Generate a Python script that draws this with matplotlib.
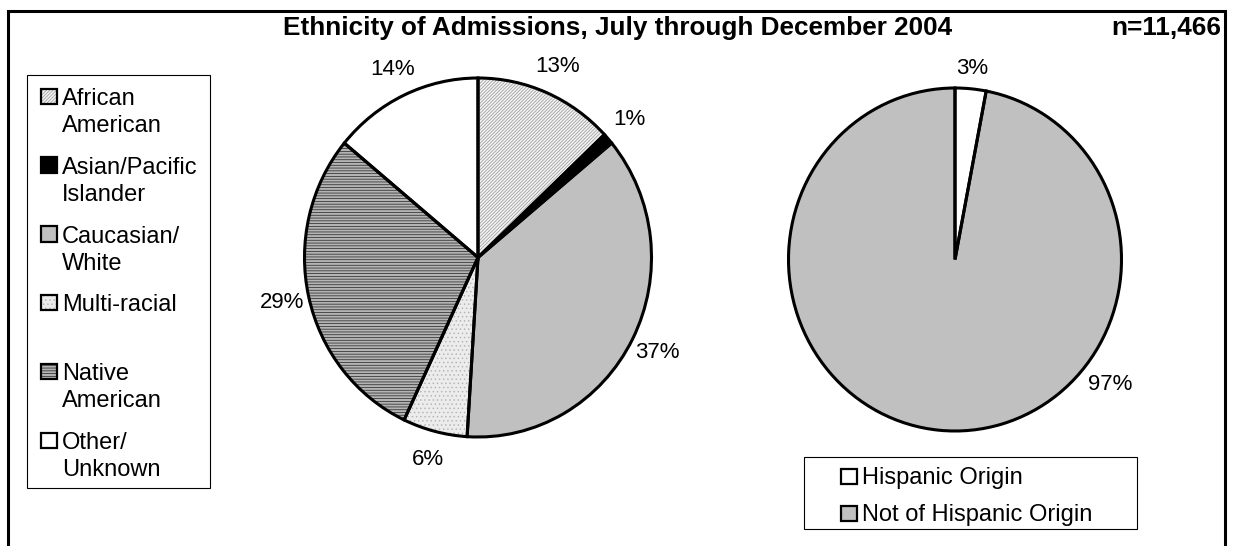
import matplotlib.pyplot as plt
from matplotlib.patches import Rectangle

plt.rcParams['font.family'] = ['Liberation Sans', 'DejaVu Sans']
plt.rcParams['hatch.linewidth'] = 0.55

# admissions by race (percent, clockwise from 12 o'clock)
race_labels = ["African\nAmerican", "Asian/Pacific\nIslander", "Caucasian/\nWhite",
               "Multi-racial", "Native\nAmerican", "Other/\nUnknown"]
race_pct = [13, 1, 37, 6, 29, 14]

# admissions by hispanic origin
origin_labels = ["Hispanic Origin", "Not of Hispanic Origin"]
origin_pct = [3, 97]

n_total = "11,466"

# (face colour, hatch, hatch colour) per slice
race_styles = [
    ("#f4f4f4", "/" * 10, "#9a9a9a"),
    ("black", None, "black"),
    ("#c0c0c0", None, "#c0c0c0"),
    ("#ececec", "....", "#b4b4b4"),
    ("#b4b4b4", "-" * 6, "#2e2e2e"),
    ("white", None, "white"),
]
origin_styles = [("white", None, "white"), ("#c0c0c0", None, "#c0c0c0")]

W, H = 1233, 546
fig = plt.figure(figsize=(W / 100, H / 100), dpi=100)

# overlay in pixel units for frame, title and legends
ov = fig.add_axes([0, 0, 1, 1])
ov.set_xlim(0, W)
ov.set_ylim(H, 0)
ov.axis('off')


def px_axes(cx, cy, rx, ry):
    return fig.add_axes([(cx - rx) / W, (H - cy - ry) / H, 2 * rx / W, 2 * ry / H])


def draw_pie(ax, values, styles, label_dist):
    wedges, texts = ax.pie(values, startangle=90, counterclock=False,
                           labels=[f"{v}%" for v in values], labeldistance=label_dist,
                           textprops=dict(fontsize=16))
    for w, (face, hatch, hc) in zip(wedges, styles):
        w.set_facecolor(face)
        w.set_edgecolor(hc)
        w.set_linewidth(0)
        if hatch:
            w.set_hatch(hatch)
    # black outlines on top so hatch colour stays separate
    ax.pie(values, startangle=90, counterclock=False,
           wedgeprops=dict(fill=False, edgecolor='black', linewidth=2.2))
    for t in texts:
        t.set_ha('center')
        t.set_va('center')
    ax.set_aspect('auto')
    ax.set_xlim(-1, 1)
    ax.set_ylim(-1, 1)
    return texts


ax1 = px_axes(478, 257.5, 173.5, 179.5)
draw_pie(ax1, race_pct, race_styles, 1.16)

ax2 = px_axes(955, 259.5, 166.5, 171.5)
t2 = draw_pie(ax2, origin_pct, origin_styles, 1.12)
t2[1].set_position((0.93, -0.73))

# frame, open at the bottom
ov.plot([8, 8, 1225, 1225], [H + 5, 11, 11, H + 5], color='black', lw=2.2,
        solid_joinstyle='miter', clip_on=False)

ov.text(618, 35, "Ethnicity of Admissions, July through December 2004",
        ha='center', va='baseline', fontsize=18.8, fontweight='bold')
ov.text(1221, 35, f"n={n_total}", ha='right', va='baseline',
        fontsize=18.8, fontweight='bold')


def legend_key(x, y, size, style):
    face, hatch, hc = style
    ov.add_patch(Rectangle((x, y), size, size, facecolor=face, edgecolor=hc,
                           lw=0, hatch=hatch))
    ov.add_patch(Rectangle((x, y), size, size, fill=False, edgecolor='black', lw=1.6))


# race legend
ov.add_patch(Rectangle((27, 75), 183, 413, fill=False, edgecolor='black', lw=0.8))
for i, (label, style) in enumerate(zip(race_labels, race_styles)):
    base = 105 + i * 68.8
    legend_key(41, base - 16.5, 15.5, style)
    for j, line in enumerate(label.split("\n")):
        ov.text(62, base + j * 27, line, fontsize=17, va='baseline')

# origin legend
ov.add_patch(Rectangle((804, 457), 333, 72, fill=False, edgecolor='black', lw=0.8))
for i, (label, style) in enumerate(zip(origin_labels, origin_styles)):
    base = 484 + i * 37
    legend_key(841, base - 15.5, 15.5, style)
    ov.text(862, base, label, fontsize=17, va='baseline')

fig.savefig("out.png", dpi=100)
